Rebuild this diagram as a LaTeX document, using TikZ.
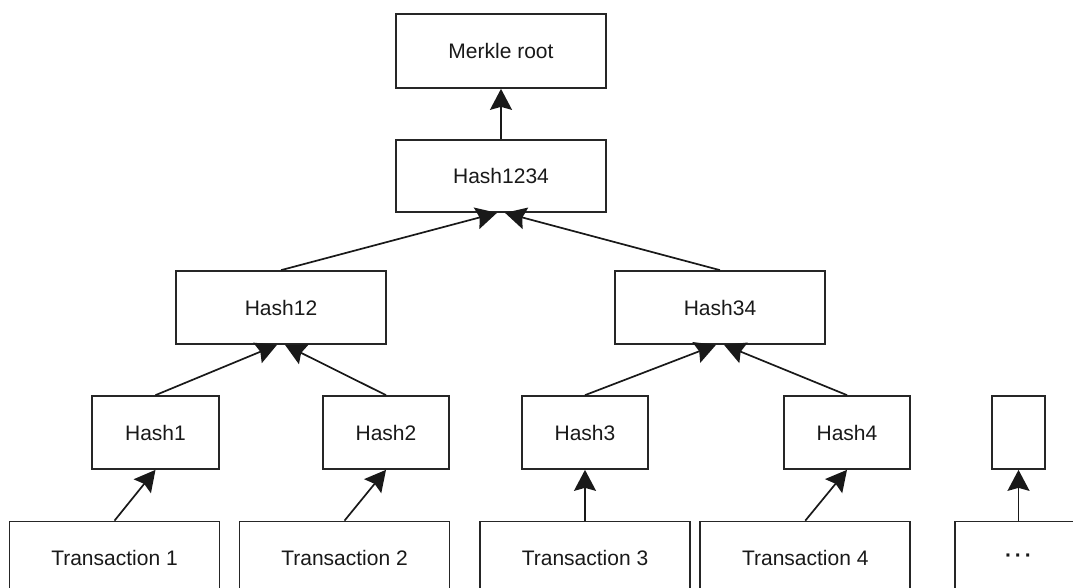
\documentclass[tikz,border=0pt]{standalone}
\usepackage{fontspec}
\setmainfont{Liberation Sans}
\usetikzlibrary{arrows.meta}
\begin{document}
\begin{tikzpicture}[x=1pt,y=-1pt,
  box/.style={draw=black!85, line width=1.7pt, fill=white, inner sep=0pt, font=\fontsize{21pt}{24pt}\selectfont, text=black!90},
  link/.style={draw=black!90, line width=1.7pt, -{Stealth[length=21pt,width=22pt,inset=3pt]}}]
\useasboundingbox (0,0) rectangle (1073,588);
\clip (0,0) rectangle (1073,588);
\fill[white] (0,0) rectangle (1073,588);
% top levels
\node[box, minimum width=210pt, minimum height=74pt] (mr) at (501,51) {Merkle root};
\node[box, minimum width=210pt, minimum height=72pt] (h1234) at (501,176) {Hash1234};
\node[box, minimum width=210pt, minimum height=73pt] (h12) at (281,307.5) {Hash12};
\node[box, minimum width=210pt, minimum height=73pt] (h34) at (720,307.5) {Hash34};
% hash leaves
\node[box, minimum width=127pt, minimum height=73pt] (h1) at (155.5,432.5) {Hash1};
\node[box, minimum width=126pt, minimum height=73pt] (h2) at (386,432.5) {Hash2};
\node[box, minimum width=126pt, minimum height=73pt] (h3) at (585,432.5) {Hash3};
\node[box, minimum width=126pt, minimum height=73pt] (h4) at (847,432.5) {Hash4};
\node[box, minimum width=53pt, minimum height=73pt] (h5) at (1018.5,432.5) {};
% transactions
\node[box, minimum width=210pt, minimum height=73pt] (t1) at (114.5,558) {Transaction 1};
\node[box, minimum width=210pt, minimum height=73pt] (t2) at (344.5,558) {Transaction 2};
\node[box, minimum width=210pt, minimum height=73pt] (t3) at (585,558) {Transaction 3};
\node[box, minimum width=210pt, minimum height=73pt] (t4) at (805.3,558) {Transaction 4};
\node[box, minimum width=127pt, minimum height=73pt] (t5) at (1018.5,558) {\textbf{\textperiodcentered\kern3pt\textperiodcentered\kern3pt\textperiodcentered}};
% connectors
\draw[link] (h1234.north) -- (mr.south);
\draw[link] (h12.north) -- ([xshift=-4pt]h1234.south);
\draw[link] (h34.north) -- ([xshift=4pt]h1234.south);
\draw[link] (h1.north) -- ([xshift=-4pt]h12.south);
\draw[link] (h2.north) -- ([xshift=4pt]h12.south);
\draw[link] (h3.north) -- ([xshift=-4pt]h34.south);
\draw[link] (h4.north) -- ([xshift=4pt]h34.south);
\draw[link] (t1.north) -- (h1.south);
\draw[link] (t2.north) -- (h2.south);
\draw[link] (t3.north) -- (h3.south);
\draw[link] (t4.north) -- (h4.south);
\draw[link] (t5.north) -- (h5.south);
\end{tikzpicture}
\end{document}
